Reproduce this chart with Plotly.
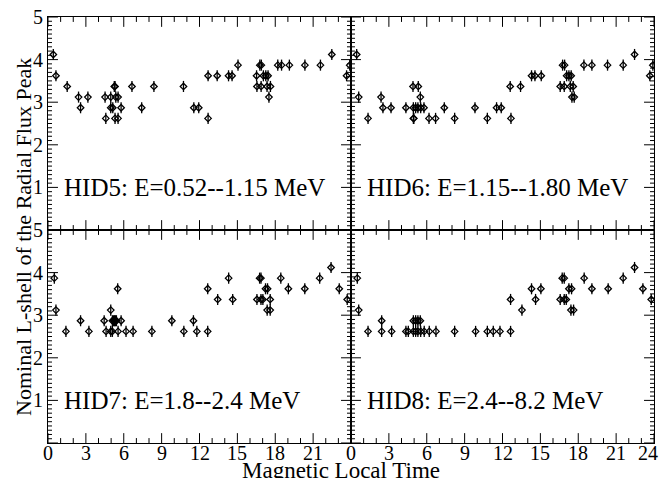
import numpy as np
import plotly.graph_objects as go
from plotly.subplots import make_subplots

# Magnetic local time (h) and nominal L-shell of the radial flux peak, per energy channel
mlt_hid5 = [0.42, 0.63, 1.52, 2.42, 2.58, 3.16, 4.52, 4.58, 4.97, 4.97, 5.13, 5.25, 5.31, 5.37, 5.31,
            5.55, 5.55, 5.79, 6.65, 7.42, 8.39, 10.73, 11.55, 11.94, 12.68, 12.68, 13.4, 14.3, 14.58,
            15.05, 16.52, 16.78, 16.9, 16.55, 16.88, 17.06, 17.25, 17.43, 17.35, 17.62, 17.5, 18.2,
            18.5, 19.12, 20.35, 21.58, 22.48, 23.65, 23.9]
l_hid5 = [4.12, 3.62, 3.37, 3.12, 2.87, 3.12, 3.12, 2.62, 3.12, 2.87, 2.87, 3.37, 3.37, 3.12, 2.62,
          3.12, 2.62, 2.87, 3.37, 2.87, 3.37, 3.37, 2.87, 2.87, 2.62, 3.62, 3.62, 3.62, 3.62,
          3.87, 3.62, 3.87, 3.87, 3.37, 3.37, 3.62, 3.62, 3.62, 3.37, 3.37, 3.12, 3.87,
          3.87, 3.87, 3.87, 3.87, 4.12, 3.62, 3.87]

mlt_hid6 = [0.45, 0.61, 1.35, 2.38, 2.53, 3.17, 4.35, 4.91, 5.33, 5.49, 4.94, 5.12, 5.3, 5.52, 5.78,
            4.94, 4.98, 6.18, 6.7, 7.39, 8.21, 9.82, 10.8, 11.53, 11.9, 12.67, 12.61, 13.43, 14.3,
            14.57, 15.07, 16.57, 16.89, 16.76, 16.92, 17.08, 17.26, 17.44, 17.37, 17.6, 17.5, 17.68,
            18.45, 19.08, 20.32, 21.56, 22.46, 23.67, 23.91]
l_hid6 = [4.12, 3.12, 2.62, 3.12, 2.87, 2.87, 2.87, 3.37, 3.37, 3.12, 2.87, 2.87, 2.87, 2.87, 2.87,
          2.62, 2.62, 2.62, 2.62, 2.87, 2.62, 2.87, 2.62, 2.87, 2.87, 2.62, 3.37, 3.37, 3.62,
          3.62, 3.62, 3.37, 3.37, 3.87, 3.87, 3.62, 3.62, 3.62, 3.37, 3.37, 3.12, 3.12,
          3.87, 3.87, 3.87, 3.87, 4.12, 3.62, 3.87]

mlt_hid7 = [0.5, 0.63, 1.42, 2.58, 3.24, 4.45, 4.6, 4.97, 4.97, 5.1, 5.1, 5.2, 5.26, 5.34, 5.42, 5.52,
            5.55, 5.79, 6.18, 6.74, 8.23, 9.81, 10.76, 11.52, 11.79, 12.65, 12.65, 13.44, 14.31,
            14.63, 16.55, 16.76, 16.87, 16.87, 17.02, 17.23, 17.39, 17.6, 17.36, 17.6, 18.44, 19.04,
            20.34, 21.52, 22.42, 23.07, 23.7]
l_hid7 = [3.87, 3.12, 2.62, 2.87, 2.62, 2.87, 2.62, 3.12, 2.62, 2.62, 2.87, 2.87, 2.87, 2.87, 2.87, 3.62,
          2.62, 2.87, 2.62, 2.62, 2.62, 2.87, 2.62, 2.87, 2.62, 2.62, 3.62, 3.37, 3.87,
          3.37, 3.37, 3.87, 3.87, 3.37, 3.37, 3.62, 3.62, 3.37, 3.12, 3.12, 3.87, 3.62,
          3.62, 3.87, 4.12, 3.62, 3.37]

mlt_hid8 = [0.5, 0.61, 1.35, 2.43, 2.43, 3.22, 4.35, 4.54, 4.94, 5.12, 5.3, 5.49, 4.94, 5.12, 5.3, 5.52,
            5.8, 6.2, 6.73, 8.21, 9.87, 10.8, 11.27, 11.8, 12.64, 12.64, 13.54, 14.3, 14.62, 15.04,
            16.73, 16.89, 16.57, 16.89, 17.05, 17.26, 17.47, 17.42, 17.63, 18.47, 19.08, 20.37,
            21.56, 22.46, 23.12, 23.78]
l_hid8 = [3.87, 3.12, 2.62, 2.87, 2.62, 2.62, 2.62, 2.62, 2.87, 2.87, 2.87, 2.87, 2.62, 2.62, 2.62, 2.62,
          2.62, 2.62, 2.62, 2.62, 2.62, 2.62, 2.62, 2.62, 2.62, 3.37, 3.12, 3.62, 3.37, 3.62,
          3.87, 3.87, 3.37, 3.37, 3.37, 3.62, 3.62, 3.12, 3.12, 3.87, 3.62, 3.62,
          3.87, 4.12, 3.62, 3.37]

l_err = 0.13
panel_labels = ["HID5: E=0.52--1.15 MeV", "HID6: E=1.15--1.80 MeV",
                "HID7: E=1.8--2.4 MeV", "HID8: E=2.4--8.2 MeV"]
x_ticks = [0, 3, 6, 9, 12, 15, 18, 21, 24]
y_ticks = [1, 2, 3, 4, 5]

series = [(mlt_hid5, l_hid5, 1, 1), (mlt_hid6, l_hid6, 1, 2),
          (mlt_hid7, l_hid7, 2, 1), (mlt_hid8, l_hid8, 2, 2)]

FONT = "'Liberation Serif', 'Times New Roman', Times, serif"
X_MAX, Y_MAX = 24.0, 5.0

# figure geometry (px) used to turn tick lengths into axis units
W, H = 661, 478
ML, MR, MT, MB = 48, 6, 11, 35
px_per_h = (W - ML - MR) / 2 / X_MAX
px_per_l = (H - MT - MB) / 2 / Y_MAX


def tick_segments():
    """Inward tick marks on all four edges of one panel (IDL-style box axes)."""
    xs, ys = [], []
    for t in np.arange(0, X_MAX + 1e-9, 1.0):
        ln = (10 if t % 3 == 0 else 5) / px_per_l
        xs += [t, t, None, t, t, None]
        ys += [0, ln, None, Y_MAX, Y_MAX - ln, None]
    for t in np.arange(0, Y_MAX + 1e-9, 0.1):
        major = abs(t - round(t)) < 1e-6
        ln = (10 if major else 4) / px_per_h
        xs += [0, ln, None, X_MAX, X_MAX - ln, None]
        ys += [t, t, None, t, t, None]
    return xs, ys


fig = make_subplots(rows=2, cols=2, horizontal_spacing=0, vertical_spacing=0)

tx, ty = tick_segments()
for (xs, ys, r, c), label in zip(series, panel_labels):
    fig.add_trace(go.Scatter(x=tx, y=ty, mode="lines", line=dict(color="black", width=1),
                             hoverinfo="skip", showlegend=False, cliponaxis=False), row=r, col=c)
    fig.add_trace(go.Scatter(
        x=xs, y=ys, mode="markers",
        marker=dict(symbol="diamond-open", size=5, color="black", line=dict(width=1.3, color="black")),
        error_y=dict(type="constant", value=l_err, thickness=1.3, width=0, color="black"),
        showlegend=False, hoverinfo="x+y"), row=r, col=c)
    fig.add_annotation(x=1.1, y=1, text=label, showarrow=False, xanchor="left", yanchor="middle",
                       font=dict(size=25), row=r, col=c)

# hour labels under the bottom row
for c in (1, 2):
    vals = x_ticks if c == 2 else x_ticks[:-1]
    for v in vals:
        anchor = "right" if (c == 2 and v == 24) else "center"
        fig.add_annotation(x=v, y=0, text=str(v), showarrow=False, xanchor=anchor, yanchor="middle",
                           xshift=(6 if anchor == "right" else 0), yshift=-10,
                           font=dict(size=20), row=2, col=c)

for r in (1, 2):
    for c in (1, 2):
        fig.update_xaxes(range=[0, X_MAX], showticklabels=False, ticks="",
                         showline=True, linecolor="black", linewidth=1, mirror=True,
                         showgrid=False, zeroline=False, row=r, col=c)
        fig.update_yaxes(range=[0, Y_MAX], tickmode="array", tickvals=y_ticks,
                         ticktext=[str(v) for v in y_ticks],
                         showticklabels=(c == 1), ticks="",
                         showline=True, linecolor="black", linewidth=1, mirror=True,
                         showgrid=False, zeroline=False,
                         tickfont=dict(size=20), row=r, col=c)

fig.add_annotation(x=-0.0395, y=0.484, xref="paper", yref="paper",
                   text="Nominal L-shell of the Radial Flux Peak",
                   textangle=-90, showarrow=False, xanchor="center", yanchor="middle",
                   font=dict(size=22))
fig.add_annotation(x=0.483, y=-0.064, xref="paper", yref="paper", text="Magnetic Local Time",
                   showarrow=False, xanchor="center", yanchor="middle",
                   font=dict(size=23))

fig.update_layout(width=W, height=H, margin=dict(l=ML, r=MR, t=MT, b=MB),
                  template="simple_white",
                  font=dict(family=FONT, color="black"),
                  plot_bgcolor="white", paper_bgcolor="white")

fig.write_html("out.html")
